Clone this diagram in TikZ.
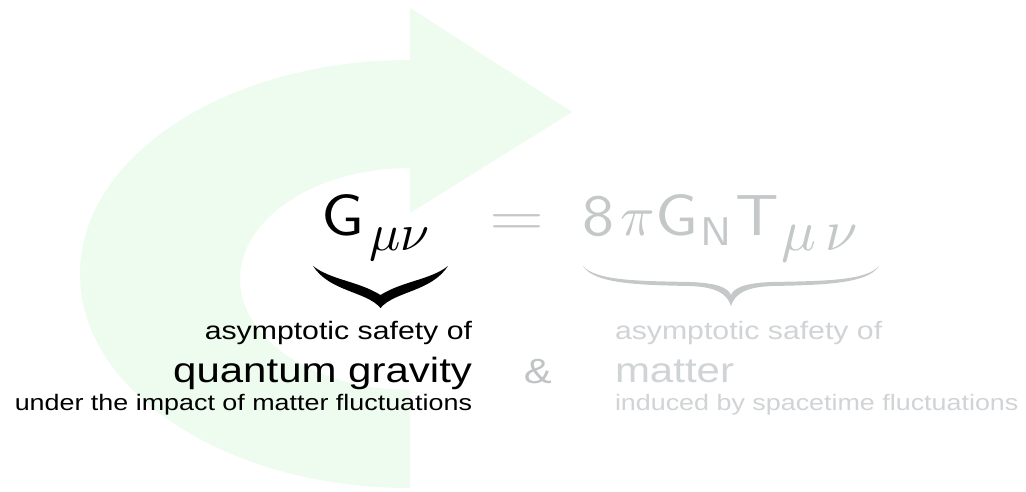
\documentclass[tikz,border=0pt]{standalone}
\usepackage{fontspec}
\usepackage{graphicx}
\newfontfamily\lsans[FakeStretch=1.2]{Liberation Sans}
\definecolor{arrowgreen}{RGB}{237,252,239}
\definecolor{eqgray}{RGB}{196,200,200}
\definecolor{txtgray}{RGB}{208,212,214}
\definecolor{ampgray}{RGB}{192,196,196}
\newcommand{\bigsfglyph}[1]{\scalebox{6.4}[5.8]{\sffamily #1}}
\newcommand{\subsfglyph}[1]{\scalebox{4.4}[4.0]{\sffamily #1}}
\tikzset{
  lbl/.style={inner sep=0pt, outer sep=0pt},
  mth/.style={lbl, font={\fontsize{10}{12}\selectfont}},
  smalltxt/.style={lbl, font={\lsans\fontsize{22.4}{24}\selectfont}},
  midtxt/.style={lbl, font={\lsans\fontsize{25.2}{28}\selectfont}},
  largetxt/.style={lbl, font={\lsans\fontsize{35}{38}\selectfont}},
}
\begin{document}
\begin{tikzpicture}[x=1pt,y=-1pt]
\useasboundingbox (0,0) rectangle (1026,491);
\fill[white] (0,0) rectangle (1026,491);
% background arrow
\fill[arrowgreen] (410,60) arc[start angle=270, end angle=90, x radius=330, y radius=214]
  -- (410,390) arc[start angle=90, end angle=270, x radius=170, y radius=111]
  -- (410,213) -- (572,112) -- (410,8) -- cycle;
% left side of equation
\node[mth, anchor=base west] (G) at (321,235) {\bigsfglyph{G}};
\node[mth, anchor=base west] (Gsub) at (369,250) {\scalebox{5.2}{$\mu\nu$}};
% equal sign
\node[mth, text=eqgray, anchor=base] (eq) at (516.5,235) {\scalebox{7.07}[5.7]{$=$}};
% right side of equation
\node[mth, text=eqgray, anchor=base west] (r8) at (582,235) {\bigsfglyph{8}};
\node[mth, text=eqgray, anchor=base west] (rpi) at (620,235) {\scalebox{5.7}{$\pi$}};
\node[mth, text=eqgray, anchor=base west] (rG) at (655,235) {\bigsfglyph{G}};
\node[mth, text=eqgray, anchor=base west] (rN) at (700,245) {\subsfglyph{N}};
\node[mth, text=eqgray, anchor=base west] (rT) at (735,235) {\bigsfglyph{T}};
\node[mth, text=eqgray, anchor=base west] (rTsub) at (781,250) {\scalebox{5.8}{$\mu\,\nu$}};
% braces
\fill[black] (313,266) .. controls (331,280) and (358,281) .. (380.5,295)
  .. controls (403,281) and (430,280) .. (448,266)
  .. controls (431,292) and (395,291) .. (380.5,308)
  .. controls (366,291) and (330,292) .. (313,266) -- cycle;
\fill[eqgray] (583,266) .. controls (596,281) and (640,281) .. (690,282)
  .. controls (718,283) and (728,288) .. (731,295)
  .. controls (734,288) and (744,283) .. (772,282)
  .. controls (822,281) and (866,281) .. (879,266)
  .. controls (868,284) and (822,285) .. (772,286)
  .. controls (747,287) and (735,293) .. (731,306)
  .. controls (727,293) and (715,287) .. (690,286)
  .. controls (640,285) and (594,284) .. (583,266) -- cycle;
% left texts
\node[midtxt, anchor=base east] (la) at (472,339) {asymptotic safety of};
\node[largetxt, anchor=base east] (lq) at (472,382) {quantum gravity};
\node[smalltxt, anchor=base east] (lu) at (472,410) {under the impact of matter fluctuations};
% ampersand
\node[largetxt, text=ampgray, anchor=base] (amp) at (538,383) {\&};
% right texts
\node[midtxt, text=txtgray, anchor=base west] (ra) at (615,339) {asymptotic safety of};
\node[largetxt, text=txtgray, anchor=base west] (rm) at (615,382) {matter};
\node[smalltxt, text=txtgray, anchor=base west] (ri) at (615,410) {induced by spacetime fluctuations};
\end{tikzpicture}
\end{document}
